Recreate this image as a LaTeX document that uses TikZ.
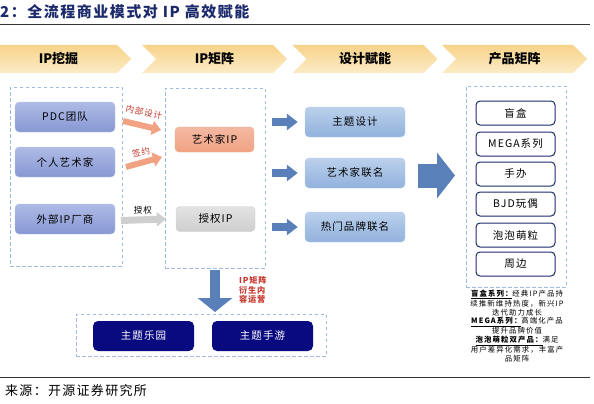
\documentclass[tikz,border=0pt]{standalone}
\usepackage{fontspec}
\setmainfont{Noto Sans CJK SC}
\newfontfamily\boxfont[LetterSpace=10]{Noto Sans CJK SC}
\newfontfamily\notefont[LetterSpace=15]{Noto Sans CJK SC}
\usepackage{tikz}
\usetikzlibrary{arrows.meta,shapes.symbols}
\definecolor{ipnavy}{HTML}{1B2A6B}
\definecolor{ipgoldtop}{HTML}{F7D38A}
\definecolor{ipgoldbot}{HTML}{FCEBC6}
\definecolor{ipdash}{HTML}{9DBBE3}
\definecolor{ippurpletop}{HTML}{AEBBE6}
\definecolor{ippurplebot}{HTML}{8797D2}
\definecolor{ipsalmon}{HTML}{F0A283}
\definecolor{ipgrey}{HTML}{CFCFCF}
\definecolor{ipskytop}{HTML}{BBD0EC}
\definecolor{ipskybot}{HTML}{91B1DC}
\definecolor{ipsteel}{HTML}{5A80BA}
\definecolor{ipdeep}{HTML}{0A0A80}
\definecolor{ipred}{HTML}{C8372D}

\begin{document}
\begin{tikzpicture}[
  x=1pt,y=-1pt,
  stagebar/.style={signal,signal to=east,signal from=west,minimum width=145,minimum height=28,inner sep=0,
    top color=ipgoldtop,bottom color=ipgoldbot,font=\bfseries\fontsize{13}{13}\selectfont},
  dashgroup/.style={draw=ipdash,line width=0.9pt,dash pattern=on 3.5pt off 2.5pt,inner sep=0},
  srcbox/.style={rounded corners=4pt,minimum width=100,minimum height=30,inner sep=0,draw=ippurpletop!80,
    top color=ippurpletop,bottom color=ippurplebot,font=\boxfont\fontsize{10.5}{11}\selectfont},
  ipbox/.style={rounded corners=4pt,minimum width=79,minimum height=25,inner sep=0,font=\boxfont\fontsize{10.5}{11}\selectfont},
  designbox/.style={rounded corners=4pt,minimum width=100,minimum height=30,inner sep=0,draw=ipskytop,
    top color=ipskytop,bottom color=ipskybot,font=\boxfont\fontsize{10.5}{11}\selectfont},
  prodbox/.style={rounded corners=4pt,minimum width=79,minimum height=24,inner sep=0,draw=ipnavy,line width=1pt,
    fill=white,font=\boxfont\fontsize{10.5}{11}\selectfont},
  parkbox/.style={rounded corners=5pt,minimum width=101,minimum height=30,inner sep=0,fill=ipdeep,text=white,
    font=\boxfont\fontsize{10.5}{11}\selectfont},
  rule/.style={draw=black!80,line width=0.9pt},
  tag/.style={inner sep=0,font=\boxfont\fontsize{8.6}{10}\selectfont},
]
\useasboundingbox (0,0) rectangle (594,404);
\clip (0,0) rectangle (594,404);

% title and rules
\node[anchor=west,inner sep=0,text=ipnavy,font=\boxfont\bfseries\fontsize{15}{16}\selectfont] (title) at (0,12) {2：全流程商业模式对 IP 高效赋能};
\draw[rule] (0,24) -- (590,24);
\draw[rule] (0,377) -- (590,377);
\node[anchor=west,inner sep=0,font=\boxfont\fontsize{13}{13}\selectfont] (source) at (5,391) {来源：开源证券研究所};

% stages
\node[stagebar] (s1) at (58.5,59) {IP挖掘};
\node[stagebar] (s2) at (214.5,59) {IP矩阵};
\node[stagebar] (s3) at (365,59) {设计赋能};
\node[stagebar] (s4) at (514.5,59) {产品矩阵};

% dashed groups
\node[dashgroup,minimum width=112,minimum height=179] (g1) at (66,176.5) {};
\node[dashgroup,minimum width=100,minimum height=180] (g2) at (215,178) {};
\node[dashgroup,minimum width=100,minimum height=201] (g3) at (516,186.5) {};
\node[dashgroup,minimum width=250,minimum height=42] (g4) at (201,335) {};

% IP sources
\node[srcbox] (pdc) at (65,117) {PDC团队};
\node[srcbox] (artist) at (65,162) {个人艺术家};
\node[srcbox] (vendor) at (65,219) {外部IP厂商};

% IP matrix
\node[ipbox,draw=ipsalmon!90,top color=ipsalmon!75,bottom color=ipsalmon] (artip) at (214.5,139.5) {艺术家IP};
\node[ipbox,draw=ipgrey,top color=ipgrey!60,bottom color=ipgrey] (licip) at (215.5,219) {授权IP};

% design
\node[designbox] (theme) at (355,122) {主题设计};
\node[designbox] (collab) at (355,173) {艺术家联名};
\node[designbox] (brand) at (355,227) {热门品牌联名};

% products
\node[prodbox] (blind) at (515.5,113) {盲盒};
\node[prodbox] (mega) at (515.5,144) {MEGA系列};
\node[prodbox] (figure) at (515.5,174) {手办};
\node[prodbox] (bjd) at (515.5,204) {BJD玩偶};
\node[prodbox] (bubble) at (515.5,235) {泡泡萌粒};
\node[prodbox] (merch) at (515.5,264) {周边};

% derived content
\node[parkbox] (park) at (143.5,336) {主题乐园};
\node[parkbox] (game) at (262.5,336) {主题手游};

% arrows into the matrix
\coordinate (a1) at (123,121);
\coordinate (a2) at (126,167);
\coordinate (a3) at (121,220.5);
\coordinate (b1) at (161,130);
\coordinate (b2) at (162,157);
\draw[ipsalmon,line width=6pt,-{Triangle[length=9pt,width=14pt]}] (a1) -- (b1);
\draw[ipsalmon,line width=6pt,-{Triangle[length=9pt,width=14pt]}] (a2) -- (b2);
\draw[ipgrey,line width=7pt,-{Triangle[length=9pt,width=14pt]}] (a3) -- ([xshift=-10pt]licip.west);
\node[tag,text=ipred,rotate=-13] (t1) at (144,112) {内部设计};
\node[tag,text=ipred,rotate=12] (t2) at (141,152) {签约};
\node[tag] (t3) at (143,210) {授权};

% arrows into design
\coordinate (c1) at (272,122);
\coordinate (c2) at (272,173);
\coordinate (c3) at (272,227);
\draw[ipsteel,line width=8pt,-{Triangle[length=11pt,width=16pt]}] (c1) -- ([xshift=-7pt]theme.west);
\draw[ipsteel,line width=8pt,-{Triangle[length=11pt,width=16pt]}] (c2) -- ([xshift=-7pt]collab.west);
\draw[ipsteel,line width=8pt,-{Triangle[length=11pt,width=16pt]}] (c3) -- ([xshift=-7pt]brand.west);

% big arrow to products, down arrow to derived content
\coordinate (d1) at (418,175.5);
\coordinate (d2) at (455,175.5);
\draw[ipsteel,line width=24pt,-{Triangle[length=18pt,width=45pt]}] (d1) -- (d2);
\coordinate (e1) at (215,270);
\coordinate (e2) at (215,312);
\draw[ipsteel,line width=10pt,-{Triangle[length=14pt,width=34pt]}] (e1) -- (e2);
\node[tag,text=ipred,anchor=west,align=left,font=\boxfont\bfseries\fontsize{8.2}{9.8}\selectfont] (t4) at (239,290) {IP矩阵\\衍生内\\容运营};

% notes
\node[inner sep=0,align=center,font=\notefont\fontsize{7.4}{8.8}\selectfont] (notes) at (517,326) {%
  \textbf{\underline{盲盒系列：}}经典IP产品持\\续推新维持热度，新兴IP\\迭代助力成长\\
  \textbf{\underline{MEGA系列：}}高端化产品\\提升品牌价值\\
  \textbf{\underline{泡泡萌粒双产品：}}满足\\用户差异化需求，丰富产\\品矩阵};
\end{tikzpicture}
\end{document}
